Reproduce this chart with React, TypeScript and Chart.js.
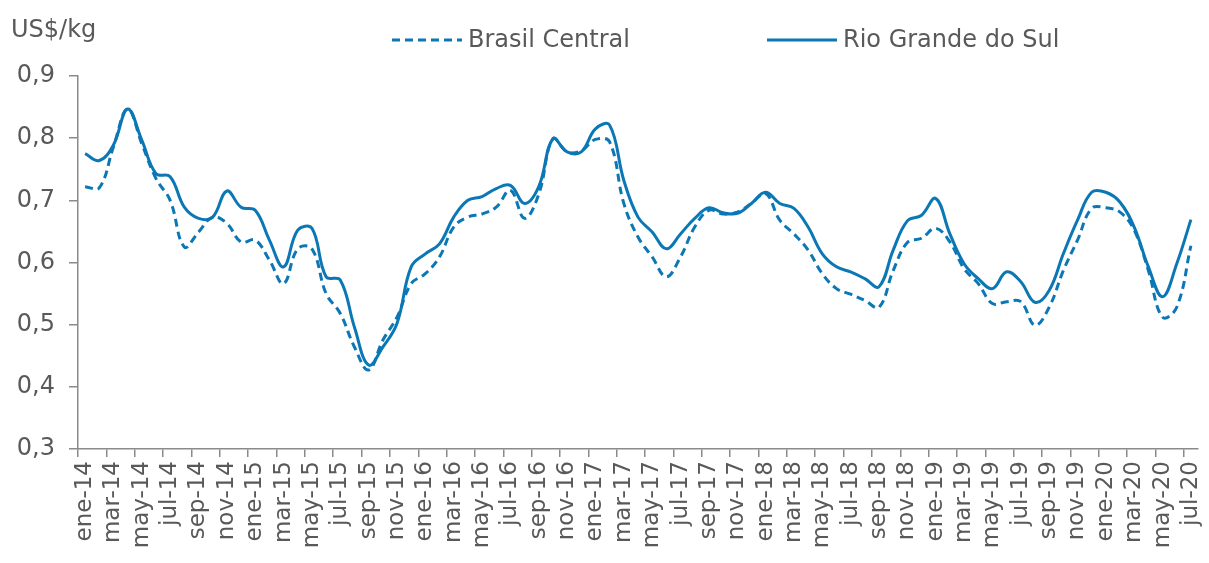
import React, { useEffect, useRef } from 'react';
import { Chart, registerables } from 'chart.js';

Chart.register(...registerables);

const FONT = '"DejaVu Sans", sans-serif';
const TEXT_COLOR = '#595959';
const AXIS_COLOR = '#8a8a8a';
const LINE_COLOR = '#0B77B5';

const MONTH_NAMES = ['ene', 'feb', 'mar', 'abr', 'may', 'jun', 'jul', 'ago', 'sep', 'oct', 'nov', 'dic'];
const YEARS = ['14', '15', '16', '17', '18', '19', '20'];
const LAST_MONTH_2020 = 7;

const categories: string[] = [];
YEARS.forEach((yr) => {
  const count = yr === '20' ? LAST_MONTH_2020 : 12;
  for (let m = 0; m < count; m++) categories.push(`${MONTH_NAMES[m]}-${yr}`);
});

const UNIT_LABEL = 'US$/kg';
const Y_MIN = 0.3;
const Y_MAX = 0.9;
const Y_STEP = 0.1;

const SERIES_BC_NAME = 'Brasil Central';
const SERIES_RGS_NAME = 'Rio Grande do Sul';

const brasilCentral = [
  0.722, 0.720, 0.786, 0.847, 0.791, 0.735, 0.700, 0.625, 0.649, 0.673, 0.663, 0.633,
  0.636, 0.604, 0.566, 0.622, 0.622, 0.550, 0.518, 0.464, 0.427, 0.475, 0.512, 0.566,
  0.582, 0.609, 0.657, 0.673, 0.678, 0.689, 0.716, 0.671, 0.710, 0.799, 0.778, 0.780,
  0.798, 0.794, 0.695, 0.641, 0.609, 0.577, 0.609, 0.657, 0.684, 0.678, 0.681, 0.695,
  0.711, 0.668, 0.646, 0.620, 0.582, 0.558, 0.549, 0.539, 0.528, 0.587, 0.632, 0.639,
  0.655, 0.633, 0.590, 0.566, 0.534, 0.537, 0.537, 0.499, 0.528, 0.587, 0.636, 0.687,
  0.688, 0.681, 0.652, 0.587, 0.512, 0.528, 0.627,
];

const rioGrandeDoSul = [
  0.775, 0.764, 0.789, 0.847, 0.797, 0.743, 0.738, 0.689, 0.671, 0.673, 0.715, 0.689,
  0.684, 0.636, 0.593, 0.652, 0.655, 0.577, 0.572, 0.496, 0.435, 0.464, 0.502, 0.593,
  0.614, 0.630, 0.673, 0.700, 0.706, 0.719, 0.724, 0.695, 0.722, 0.799, 0.778, 0.778,
  0.815, 0.821, 0.732, 0.673, 0.649, 0.622, 0.646, 0.671, 0.688, 0.680, 0.679, 0.695,
  0.713, 0.695, 0.687, 0.657, 0.614, 0.593, 0.585, 0.574, 0.561, 0.620, 0.667, 0.676,
  0.703, 0.646, 0.598, 0.574, 0.558, 0.585, 0.569, 0.536, 0.555, 0.614, 0.668, 0.713,
  0.713, 0.697, 0.657, 0.593, 0.545, 0.598, 0.669,
];

const DASH = [8, 5];

const overlayPlugin = {
  id: 'overlayLegend',
  afterDraw(chart: any) {
    const ctx = chart.ctx as CanvasRenderingContext2D;
    ctx.save();
    ctx.fillStyle = TEXT_COLOR;
    ctx.font = `24px ${FONT}`;
    ctx.textBaseline = 'middle';
    ctx.textAlign = 'left';
    ctx.fillText(UNIT_LABEL, 11, 31);

    const items = [
      { lineX: 392, textX: 468 },
      { lineX: 767, textX: 843 },
    ];
    chart.data.datasets.forEach((ds: any, i: number) => {
      const it = items[i];
      const y = 40;
      ctx.beginPath();
      ctx.strokeStyle = ds.borderColor;
      ctx.lineWidth = 3;
      ctx.setLineDash(ds.borderDash || []);
      ctx.moveTo(it.lineX, y);
      ctx.lineTo(it.lineX + 70, y);
      ctx.stroke();
      ctx.setLineDash([]);
      ctx.fillStyle = TEXT_COLOR;
      ctx.fillText(ds.label, it.textX, y + 1);
    });
    ctx.restore();
  },
};

export default function App() {
  const canvasRef = useRef<HTMLCanvasElement | null>(null);

  useEffect(() => {
    if (!canvasRef.current) return;
    const chart = new Chart(canvasRef.current, {
      type: 'line',
      data: {
        labels: categories,
        datasets: [
          {
            label: SERIES_BC_NAME,
            data: brasilCentral,
            borderColor: LINE_COLOR,
            borderWidth: 3,
            borderDash: DASH,
            pointRadius: 0,
            tension: 0.4,
            fill: false,
          },
          {
            label: SERIES_RGS_NAME,
            data: rioGrandeDoSul,
            borderColor: LINE_COLOR,
            borderWidth: 3,
            pointRadius: 0,
            tension: 0.4,
            fill: false,
          },
        ],
      },
      options: {
        animation: false,
        responsive: false,
        maintainAspectRatio: false,
        layout: { padding: { top: 76, right: 11, left: 0, bottom: 0 } },
        plugins: {
          legend: { display: false },
          tooltip: { enabled: false },
          title: { display: false },
        },
        scales: {
          x: {
            type: 'category',
            offset: true,
            afterFit: (scale: any) => {
              scale.height = 114;
              scale.paddingLeft = 0;
              scale.paddingRight = 0;
            },
            grid: {
              offset: true,
              drawOnChartArea: false,
              drawTicks: true,
              tickLength: 8,
              lineWidth: 1.5,
              color: (c: any) => (typeof c.index === 'number' && c.index % 2 === 0 ? AXIS_COLOR : 'rgba(0,0,0,0)'),
            },
            border: { display: true, color: AXIS_COLOR, width: 1.5 },
            ticks: {
              autoSkip: false,
              maxRotation: 90,
              minRotation: 90,
              padding: 4,
              color: TEXT_COLOR,
              font: { family: FONT, size: 23 },
              callback: (_v: any, idx: number) => (idx % 2 === 0 ? categories[idx] : ''),
            },
          },
          y: {
            min: Y_MIN,
            max: Y_MAX,
            afterFit: (scale: any) => {
              scale.width = 78;
            },
            grid: {
              drawOnChartArea: false,
              drawTicks: true,
              tickLength: 9,
              lineWidth: 1.5,
              color: AXIS_COLOR,
            },
            border: { display: true, color: AXIS_COLOR, width: 1.5 },
            ticks: {
              stepSize: Y_STEP,
              padding: 14,
              color: TEXT_COLOR,
              font: { family: FONT, size: 24 },
              callback: (v: any) => Number(v).toFixed(1).replace('.', ','),
            },
          },
        },
      },
      plugins: [overlayPlugin],
    });
    return () => chart.destroy();
  }, []);

  return (
    <div style={{ position: 'fixed', left: 0, top: 0, width: 1209, height: 563, background: '#fff' }}>
      <canvas ref={canvasRef} width={1209} height={563} style={{ display: 'block' }} />
    </div>
  );
}
